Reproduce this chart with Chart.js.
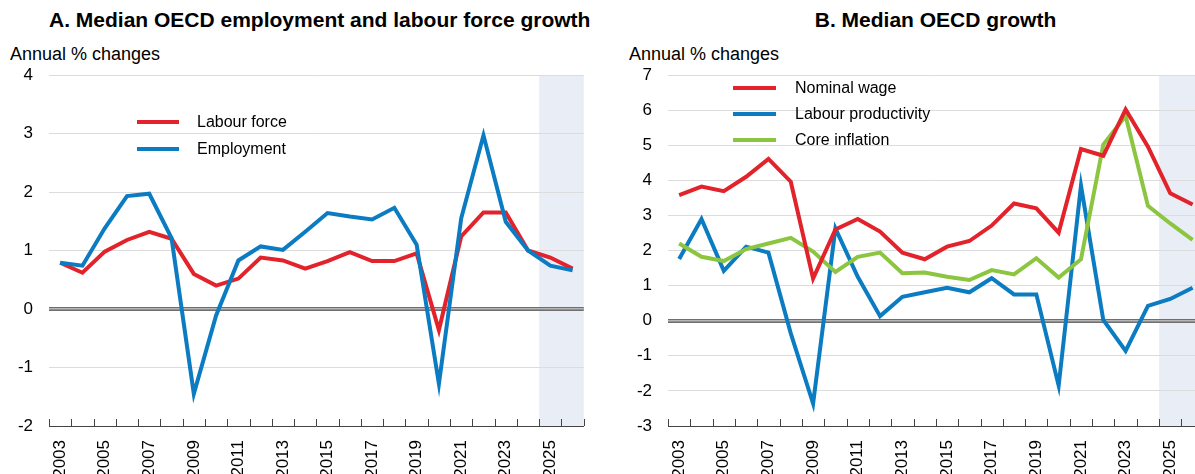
<!DOCTYPE html>
<html>
<head>
<meta charset="utf-8">
<script src="https://cdn.jsdelivr.net/npm/chart.js@4"></script>
<style>
  html, body { margin: 0; padding: 0; background: #fff; overflow: hidden; width: 1195px; height: 474px; }
  body { position: relative; font-family: "Liberation Sans", Arial, sans-serif; color: #000; }
  canvas { position: absolute; top: 0; }
  #chartA { left: 0; }
  #chartB { left: 597px; }
  .title { position: absolute; top: 9px; width: 535px; font-weight: bold; font-size: 21px; line-height: 21px; text-align: center; white-space: nowrap; }
  .unit { position: absolute; top: 45px; font-size: 18px; line-height: 18px; white-space: nowrap; }
  .legend { position: absolute; font-size: 16px; }
  .legend div { position: relative; white-space: nowrap; }
  .legend span { position: absolute; left: 0; height: 4px; }
</style>
</head>
<body>
<div class="title" style="left:49px">A. Median OECD employment and labour force growth</div>
<div class="title" style="left:668px">B. Median OECD growth</div>
<div class="unit" style="left:10px">Annual % changes</div>
<div class="unit" style="left:629px">Annual % changes</div>

<canvas id="chartA" width="599" height="474"></canvas>
<canvas id="chartB" width="622" height="474"></canvas>

<div class="legend" style="left:137px; top:108px">
  <div style="height:27px; line-height:27px; padding-left:60px"><span style="top:12px; width:42px; background:#e3232b"></span>Labour force</div>
  <div style="height:27px; line-height:27px; padding-left:60px"><span style="top:12px; width:42px; background:#0b7bc2"></span>Employment</div>
</div>
<div class="legend" style="left:733px; top:75px">
  <div style="height:26px; line-height:26px; padding-left:62px"><span style="top:11px; width:43px; background:#e3232b"></span>Nominal wage</div>
  <div style="height:26px; line-height:26px; padding-left:62px"><span style="top:11px; width:43px; background:#0b7bc2"></span>Labour productivity</div>
  <div style="height:26px; line-height:26px; padding-left:62px"><span style="top:11px; width:43px; background:#8cc540"></span>Core inflation</div>
</div>

<script>
const years = ["2003", "2004", "2005", "2006", "2007", "2008", "2009", "2010", "2011", "2012", "2013", "2014",
  "2015", "2016", "2017", "2018", "2019", "2020", "2021", "2022", "2023", "2024", "2025", "2026"];

// panel A
const labourForce = [0.79, 0.62, 0.98, 1.18, 1.32, 1.20, 0.60, 0.40, 0.52, 0.88, 0.83, 0.69,
  0.82, 0.97, 0.82, 0.82, 0.95, -0.36, 1.24, 1.65, 1.65, 1.00, 0.88, 0.69];
const employment = [0.79, 0.74, 1.38, 1.93, 1.97, 1.21, -1.45, -0.11, 0.83, 1.07, 1.01, 1.32,
  1.64, 1.58, 1.53, 1.73, 1.10, -1.28, 1.55, 2.97, 1.49, 1.00, 0.74, 0.66];

// panel B
const nominalWage = [3.58, 3.82, 3.69, 4.10, 4.61, 3.96, 1.20, 2.60, 2.90, 2.54, 1.94, 1.75,
  2.11, 2.27, 2.71, 3.34, 3.20, 2.51, 4.89, 4.70, 6.02, 4.96, 3.63, 3.31];
const labourProductivity = [1.76, 2.90, 1.42, 2.11, 1.94, -0.36, -2.36, 2.63, 1.25, 0.13, 0.68, 0.81,
  0.94, 0.81, 1.21, 0.75, 0.75, -1.85, 3.85, 0.02, -0.86, 0.42, 0.62, 0.94];
const coreInflation = [2.20, 1.82, 1.70, 2.04, 2.20, 2.36, 1.97, 1.39, 1.82, 1.94, 1.35, 1.37,
  1.25, 1.16, 1.44, 1.32, 1.78, 1.23, 1.75, 5.02, 5.83, 3.27, 2.77, 2.30];

const projectionStart = "2025"; // shaded years
const yRangeA = [-2, 4];
const yRangeB = [-3, 7];

const RED = "#e3232b";
const BLUE = "#0b7bc2";
const GREEN = "#8cc540";

Chart.defaults.font.family = '"Liberation Sans", Arial, sans-serif';
Chart.defaults.font.size = 17;
Chart.defaults.color = "#000";

// light blue background behind projection years, double zero line on top of the grid
const shadePlugin = {
  id: "shade",
  beforeDraw(chart) {
    const { ctx, chartArea, scales } = chart;
    const x = scales.x;
    const i = years.indexOf(projectionStart);
    const left = x.getPixelForValue(i - 0.5);
    ctx.save();
    ctx.fillStyle = "#e9edf6";
    ctx.fillRect(left, chartArea.top, chartArea.right - left, chartArea.bottom - chartArea.top);
    ctx.restore();
  },
  beforeDatasetsDraw(chart) {
    const { ctx, chartArea, scales } = chart;
    const y0 = Math.round(scales.y.getPixelForValue(0));
    ctx.save();
    ctx.fillStyle = "#6f6f6f";
    ctx.fillRect(chartArea.left, y0 - 2, chartArea.right - chartArea.left, 4);
    ctx.fillStyle = "#b5b5b5";
    ctx.fillRect(chartArea.left, y0 - 1, chartArea.right - chartArea.left, 1.5);
    ctx.restore();
  }
};

// small tick marks pointing up from the x axis, between categories
const tickPlugin = {
  id: "ticksUp",
  afterDatasetsDraw(chart) {
    const { ctx, chartArea, scales } = chart;
    const x = scales.x;
    ctx.save();
    ctx.strokeStyle = "#444";
    ctx.lineWidth = 1;
    ctx.beginPath();
    for (let i = 0; i <= years.length; i++) {
      const px = Math.round(x.getPixelForValue(i - 0.5)) + 0.5;
      ctx.moveTo(px, chartArea.bottom);
      ctx.lineTo(px, chartArea.bottom - 7);
    }
    ctx.stroke();
    ctx.restore();
  }
};

function line(data, color) {
  return {
    data: data,
    borderColor: color,
    backgroundColor: color,
    borderWidth: 4,
    pointRadius: 0,
    tension: 0,
    fill: false
  };
}

function makeChart(id, datasets, yRange, axisWidth) {
  return new Chart(document.getElementById(id), {
    type: "line",
    data: { labels: years, datasets: datasets },
    options: {
      responsive: false,
      animation: false,
      layout: { padding: { top: 75, right: 0, left: 0, bottom: 0 } },
      plugins: { legend: { display: false }, tooltip: { enabled: false } },
      scales: {
        x: {
          offset: true,
          grid: { display: false },
          border: { display: true, color: "#444", width: 1 },
          ticks: {
            autoSkip: false,
            minRotation: 90,
            maxRotation: 90,
            padding: 6,
            callback: (v, i) => (i % 2 === 0 ? years[i] : "")
          },
          afterFit(s) { s.height = 48; }
        },
        y: {
          min: yRange[0],
          max: yRange[1],
          ticks: { stepSize: 1, padding: 16 },
          grid: {
            drawTicks: false,
            color: (c) => (c.tick && c.tick.value === 0 ? "rgba(0,0,0,0)" : "#dcdcdc"),
            lineWidth: 1
          },
          border: { display: false },
          afterFit(s) { s.width = axisWidth; }
        }
      }
    },
    plugins: [shadePlugin, tickPlugin]
  });
}

makeChart("chartA", [line(employment, BLUE), line(labourForce, RED)], yRangeA, 49);
makeChart("chartB", [line(nominalWage, RED), line(coreInflation, GREEN), line(labourProductivity, BLUE)], yRangeB, 71);
</script>
</body>
</html>
